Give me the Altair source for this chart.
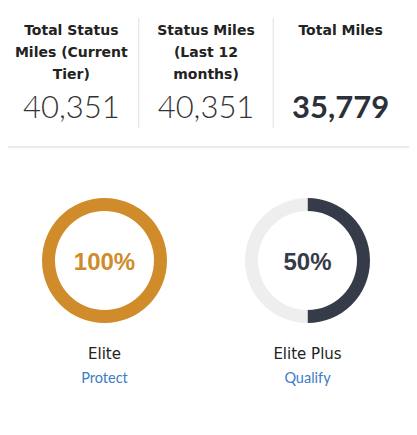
import altair as alt
import pandas as pd

# ---- data ----
stat_titles = ["Total Status\nMiles (Current\nTier)", "Status Miles\n(Last 12\nmonths)", "Total Miles"]
stat_values = [40351, 40351, 35779]
stat_kinds = ["status", "status", "total"]

tiers = ["Elite", "Elite Plus"]
tier_progress = [100, 50]
tier_actions = ["Protect", "Qualify"]

GOLD = "#D08B2B"
NAVY = "#353B48"
LIGHT = "#EEEEEE"
BLUE = "#3D7CC6"
TEXT = "#222222"

stats = pd.DataFrame({"title": stat_titles, "miles": stat_values, "kind": stat_kinds,
                      "idx": list(range(len(stat_titles)))})

rows = []
for t, p in zip(tiers, tier_progress):
    rows.append({"tier": t, "part": "done", "value": p})
    rows.append({"tier": t, "part": "left", "value": 100 - p})
progress = pd.DataFrame(rows)
tier_df = pd.DataFrame({"tier": tiers, "progress": tier_progress, "action": tier_actions})

W, H = 401, 419

xs = alt.X("title:N", scale=alt.Scale(type="band", domain=stat_titles, range=[-4, 400],
                                        paddingInner=0, paddingOuter=0), axis=None)
xt = alt.X("tier:N", scale=alt.Scale(type="band", domain=tiers, range=[-5, 401],
                                       paddingInner=0, paddingOuter=0), axis=None)
color_scale = alt.Scale(domain=["Elite", "Elite Plus", "Remaining"], range=[GOLD, NAVY, LIGHT])

base_s = alt.Chart(stats)
titles = base_s.mark_text(font="DejaVu Sans", fontSize=14, fontWeight="bold", color=TEXT,
                          lineBreak="\n", lineHeight=22, baseline="alphabetic",
                          align="center").encode(
    x=xs, y=alt.value(27), text="title:N")
vals_light = base_s.transform_filter("datum.kind == 'status'").mark_text(
    font="Lato", fontSize=31, fontWeight=300, color="#333333", baseline="alphabetic",
    align="center").encode(x=xs, y=alt.value(110), text=alt.Text("miles:Q", format=",d"))
vals_bold = base_s.transform_filter("datum.kind == 'total'").mark_text(
    font="Lato", fontSize=31, fontWeight="bold", color="#2B303A", baseline="alphabetic",
    align="center").encode(x=xs, y=alt.value(110), text=alt.Text("miles:Q", format=",d"))
seps = base_s.transform_filter("datum.idx > 0").mark_rule(color="#E6E6E6", strokeWidth=1.2).encode(
    x=alt.X("title:N", bandPosition=0, scale=alt.Scale(type="band", domain=stat_titles,
                                                       range=[-4, 400], paddingInner=0,
                                                       paddingOuter=0), axis=None),
    y=alt.value(10), y2=alt.value(120))
top = alt.layer(titles, vals_light, vals_bold, seps)

arcs = alt.Chart(progress).transform_window(
    cum="sum(value)", groupby=["tier"], sort=[alt.SortField("part")]
).transform_calculate(
    start="datum.cum - datum.value",
    segment="datum.part == 'done' ? datum.tier : 'Remaining'"
).mark_arc(innerRadius=49.5, outerRadius=62.5).encode(
    x=xt, y=alt.value(252.5),
    theta=alt.Theta("start:Q", scale=alt.Scale(domain=[0, 100], range=[0, 6.283185])),
    theta2="cum:Q",
    color=alt.Color("segment:N", scale=color_scale, legend=None))

base_t = alt.Chart(tier_df)
pct = base_t.transform_calculate(label="datum.progress + '%'").mark_text(
    font="Liberation Sans", fontSize=24, fontWeight="bold", baseline="middle", align="center").encode(
    x=xt, y=alt.value(254.5), text="label:N",
    color=alt.Color("tier:N", scale=color_scale, legend=None))
names = base_t.mark_text(font="DejaVu Sans", fontSize=15, color=TEXT,
                         baseline="middle", align="center").encode(
    x=xt, y=alt.value(346), text="tier:N")
actions = base_t.mark_text(font="Lato", fontSize=14.5, color=BLUE, baseline="middle",
                           align="center").encode(
    x=xt, y=alt.value(371), text="action:N")
bottom = alt.layer(arcs, pct, names, actions)

divider = alt.Chart(pd.DataFrame({"k": [0]})).mark_rule(color="#E4E4E4", strokeWidth=1.5).encode(
    x=alt.value(0), x2=alt.value(W), y=alt.value(139))

chart = alt.layer(top, bottom, divider).resolve_scale(x="independent").properties(
    width=W, height=H, padding=0, autosize="none"
).configure_view(strokeWidth=0)

chart.save("out.html", embed_options={"renderer": "svg", "actions": False})
